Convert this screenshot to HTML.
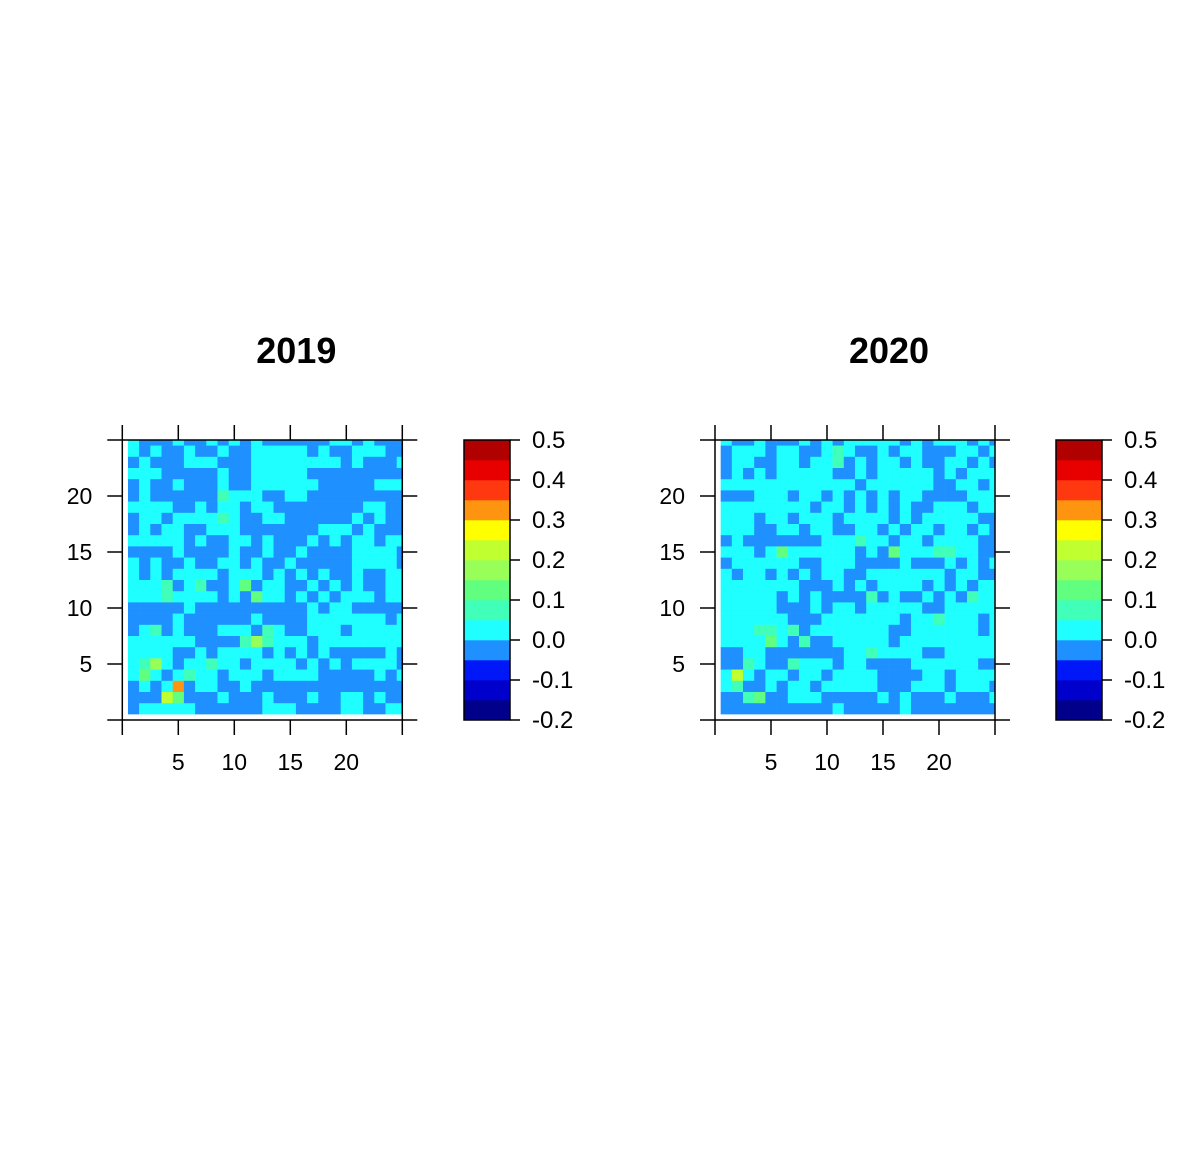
<!DOCTYPE html>
<html><head><meta charset="utf-8"><style>
html,body{margin:0;padding:0;background:#fff;}
svg{display:block;font-family:"Liberation Sans",Arial,sans-serif;}
</style></head><body>
<svg id="chart" width="1186" height="1168" viewBox="0 0 1186 1168" xmlns="http://www.w3.org/2000/svg"></svg>
<script>
// level palette (index 0..13) for breaks -0.2..0.5 step 0.05
const levelColors = ["#00008B","#0000CC","#0018F8","#1E90FF","#20FFFF","#40FFB8","#60FF80","#98FF58","#C0FF30","#FFFF00","#FF9410","#FF3810","#E80000","#B00000"];
const levelBreaks = [-0.2,-0.15,-0.1,-0.05,0,0.05,0.1,0.15,0.2,0.25,0.3,0.35,0.4,0.45,0.5];
const cbTickValues = [-0.2,-0.1,0.0,0.1,0.2,0.3,0.4,0.5];
const cbTickLabels = ["-0.2","-0.1","0.0","0.1","0.2","0.3","0.4","0.5"];
const axisTicks = [0,5,10,15,20,25];
const axisTickLabels = ["","5","10","15","20",""];
const panelTitles = ["2019","2020"];
// grid rows listed from y=25 (top) down to y=1; each char = level index (A=10)
const grid2019 = [
"4333433434343333334434333",
"4343343343344444343344433",
"3433344433344444444343334",
"4443333343344444333333333",
"3433433343344444433333444",
"3433333354443344333333333",
"4444334344344333333334433",
"3443444454334433333343433",
"3434433444333333344434333",
"4444434334434333434344344",
"3333433334334334333344443",
"4343343344343343333344443",
"4343444434443434343343344",
"4445345334634433434343344",
"4445444434364434343444344",
"3333343333333333434433333",
"3333433333343333444444434",
"3453433344435433444344444",
"4444443333575444344444444",
"4444334344443434343333343",
"4574344544344443434344443",
"4643454434443444433333434",
"3434A34433433333333333333",
"3338633343334333433443433",
"3444443333334443333443344"
];
const grid2020 = [
"4334333434344444343444343",
"3444344334543343443334434",
"3443344344534344343344343",
"3434344444334344444343444",
"4444444444443444444334434",
"3334443443434343443333444",
"4444444434434343433444344",
"4443443444344443434444433",
"4443344344334434344344343",
"3433333334445443443444433",
"4443464444443436444554433",
"3444444334443333433343434",
"4344343434433444444434433",
"4444444333434344443434344",
"4444434343333534334343544",
"4444433343443444443344444",
"4444443334444444344544434",
"4445545344444443344444434",
"4444643533444443444444444",
"3344333333344544443344444",
"3354335444344333344444433",
"4843443443444433334434444",
"4533434434444433344434443",
"3356334443333343433343334",
"3333333333433333433333333"
];
const grids = [grid2019, grid2020];

const NS = "http://www.w3.org/2000/svg";
const svg = document.getElementById("chart");
function mk(tag, attrs, parent){
  const e = document.createElementNS(NS, tag);
  for (const k in attrs) e.setAttribute(k, attrs[k]);
  (parent||svg).appendChild(e);
  return e;
}
const unit = 11.2;
const panels = [{x0:122.3, cb:464}, {x0:715, cb:1056}];
const yTop = 440, yBot = 720;

panels.forEach((p, pi) => {
  const g = mk("g", {});
  
  
  const xs = v => p.x0 + v*unit;
  const ys = v => yBot - v*unit;
  const clipId = "clip" + pi;
  const cp = mk("clipPath", {id: clipId}, g);
  mk("rect", {x: xs(0.5), y: yTop, width: xs(25) - xs(0.5), height: ys(0.5) - yTop}, cp);
  const hm = mk("g", {"clip-path": "url(#" + clipId + ")"}, g);
  
  
  const grid = grids[pi];
  grid.forEach((row, ri) => {
    const yv = 25 - ri;
    for (let ci = 0; ci < row.length; ci++) {
      const xv = ci + 1;
      const lvl = parseInt(row[ci], 16);
      const r = mk("rect", {x: xs(xv-0.5), y: ys(yv+0.5), width: unit+0.3, height: unit+0.3, fill: levelColors[lvl]}, hm);
      
      
    }
  });
  const box = mk("rect", {x: xs(0), y: yTop, width: xs(25)-xs(0), height: yBot-yTop, fill: "none", stroke: "#000", "stroke-width": 1.5}, g);
  
  
  axisTicks.forEach((t, ti) => {
    const x = xs(t), y = ys(t);
    mk("line", {x1:x, x2:x, y1:yBot, y2:yBot+15, stroke:"#000","stroke-width":1.5}, g);
    mk("line", {x1:x, x2:x, y1:yTop, y2:yTop-15, stroke:"#000","stroke-width":1.5}, g);
    mk("line", {x1:xs(0), x2:xs(0)-15, y1:y, y2:y, stroke:"#000","stroke-width":1.5}, g);
    mk("line", {x1:xs(25), x2:xs(25)+15, y1:y, y2:y, stroke:"#000","stroke-width":1.5}, g);
    if (axisTickLabels[ti]) {
      const tx = mk("text", {x:x, y:yBot+50, "font-size":23, "text-anchor":"middle"}, g);
      tx.textContent = axisTickLabels[ti];
      
      
      const ty = mk("text", {x:xs(0)-30, y:y+8, "font-size":23, "text-anchor":"end"}, g);
      ty.textContent = axisTickLabels[ti];
      
      
    }
  });
  const title = mk("text", {x:(xs(0)+xs(25))/2 + 34, y:363, "font-size":36, "font-weight":"bold", "text-anchor":"middle"}, g);
  title.textContent = panelTitles[pi];
  
  
  const cbg = mk("g", {}, g);
  
  
  const cbY = v => yBot - (v - levelBreaks[0]) / (levelBreaks[levelBreaks.length-1] - levelBreaks[0]) * (yBot - yTop);
  levelColors.forEach((c, li) => {
    const r = mk("rect", {x:p.cb, y:cbY(levelBreaks[li+1]), width:46, height:cbY(levelBreaks[li]) - cbY(levelBreaks[li+1]) + 0.3, fill:c}, cbg);
    
    
  });
  mk("rect", {x:p.cb, y:yTop, width:46, height:yBot-yTop, fill:"none", stroke:"#000","stroke-width":1.5}, cbg);
  cbTickValues.forEach((v, vi) => {
    const y = cbY(v);
    mk("line", {x1:p.cb+46, x2:p.cb+56, y1:y, y2:y, stroke:"#000","stroke-width":1.5}, cbg);
    const t = mk("text", {x:p.cb+68, y:y+8, "font-size":24}, cbg);
    t.textContent = cbTickLabels[vi];
    
    
  });
});
</script>
</body></html>
